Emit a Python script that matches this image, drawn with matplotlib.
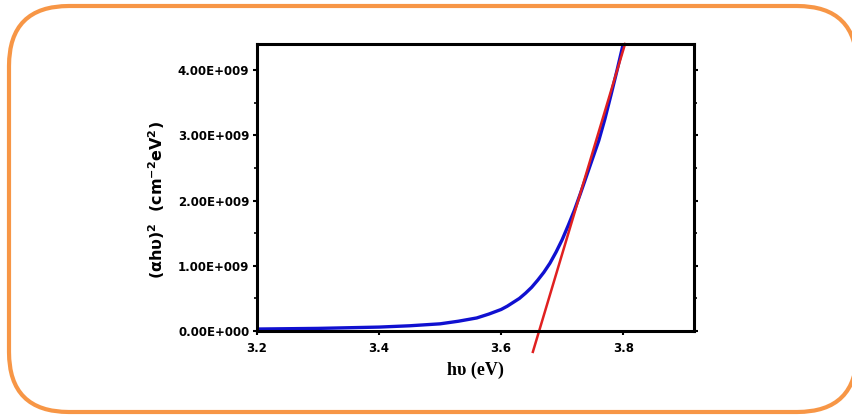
"""
Tauc plot: (alpha h nu)^2 vs photon energy with linear extrapolation
"""
import numpy as np
import matplotlib.pyplot as plt
from matplotlib.patches import FancyBboxPatch
from matplotlib.ticker import FixedLocator, MultipleLocator

# photon energy (eV) and (alpha h nu)^2
energy = [3.20, 3.25, 3.30, 3.35, 3.40, 3.45, 3.50, 3.53, 3.56, 3.58, 3.60, 3.61,
          3.62, 3.63, 3.64, 3.65, 3.66, 3.67, 3.68, 3.69, 3.70, 3.71, 3.72, 3.73,
          3.74, 3.75, 3.76, 3.77, 3.78, 3.79, 3.80, 3.81]
ahv2 = [0.03e9, 0.035e9, 0.04e9, 0.05e9, 0.06e9, 0.08e9, 0.11e9, 0.15e9, 0.20e9,
        0.26e9, 0.33e9, 0.38e9, 0.44e9, 0.50e9, 0.58e9, 0.67e9, 0.78e9, 0.90e9,
        1.04e9, 1.21e9, 1.40e9, 1.62e9, 1.85e9, 2.11e9, 2.38e9, 2.65e9, 2.92e9,
        3.25e9, 3.62e9, 4.00e9, 4.40e9, 4.80e9]

# linear fit (extrapolated band edge)
fit_x = [3.652, 3.803]
fit_y = [-0.32e9, 4.40e9]

y_ticks = [0, 1e9, 2e9, 3e9, 4e9]
y_labels = ['0.00E+000', '1.00E+009', '2.00E+009', '3.00E+009', '4.00E+009']
x_ticks = [3.2, 3.4, 3.6, 3.8]

fig = plt.figure(figsize=(8.52, 4.18), dpi=100)

# orange rounded frame (inches, right side runs past the image edge);
# filled white so Agg doesn't stroke a clip edge along the canvas border
frame = FancyBboxPatch((0.09, 0.06), 8.48, 4.06,
                       boxstyle='round,pad=0,rounding_size=0.60',
                       transform=fig.dpi_scale_trans, facecolor='white',
                       edgecolor='#F79646', linewidth=3.0, zorder=-1)
fig.patches.append(frame)

ax = fig.add_axes([257 / 852, 1 - 331 / 418, 437 / 852, 287 / 418])
ax.plot(energy, ahv2, color='#1010D0', linewidth=2.4, solid_capstyle='round')
ax.plot(fit_x, fit_y, color='#E02020', linewidth=1.8, clip_on=False)

ax.set_xlim(3.2, 3.916)
ax.set_ylim(0, 4.40e9)

ax.yaxis.set_major_locator(FixedLocator(y_ticks))
ax.set_yticklabels(y_labels, fontsize=8.5, fontweight='bold')
ax.yaxis.set_minor_locator(MultipleLocator(0.5e9))
ax.set_xticks(x_ticks)
ax.set_xticklabels([f'{v:.1f}' for v in x_ticks], fontsize=8.5, fontweight='bold')

ax.tick_params(axis='both', which='major', direction='out', length=3, width=1.5)
ax.tick_params(axis='y', which='major', pad=2.5)
ax.tick_params(axis='x', which='major', pad=5)
ax.tick_params(axis='y', which='minor', direction='out', length=2, width=1.2)
ax.tick_params(axis='y', which='both', right=True, labelright=False)

for s in ax.spines.values():
    s.set_linewidth(2.2)

ax.set_xlabel('h\u03c5 (eV)', fontsize=13, fontweight='bold', family='Liberation Serif', labelpad=5)
ax.set_ylabel('(\u03b1h\u03c5)$^{\\mathbf{2}}$  (cm$^{\\mathbf{-2}}$eV$^{\\mathbf{2}}$)',
              fontsize=11.5, fontweight='bold')
ax.yaxis.set_label_coords(-0.206, 0.455)

plt.savefig('out.png', dpi=100)
plt.close()
print('Saved: out.png')
